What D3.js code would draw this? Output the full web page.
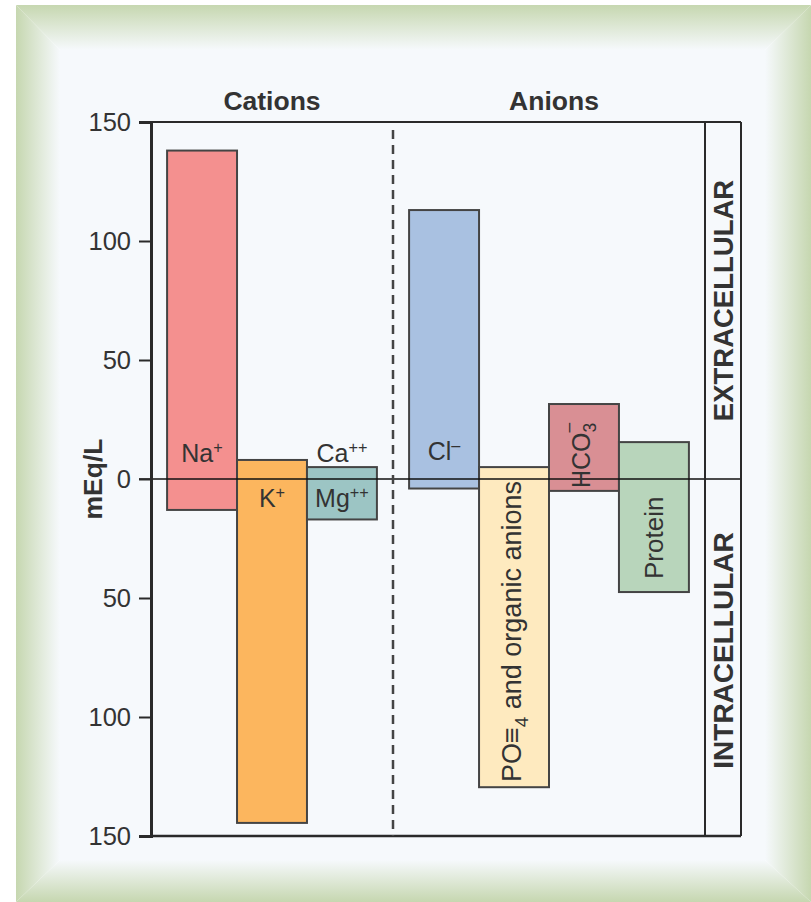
<!DOCTYPE html>
<html><head><meta charset="utf-8">
<script src="https://cdn.jsdelivr.net/npm/d3@7"></script>
<style>
html,body{margin:0;padding:0;background:#fff;}
svg{display:block;}
text{font-family:"Liberation Sans","Arial",sans-serif;fill:#333;}
</style></head>
<body>
<svg id="chart" width="811" height="902"></svg>
<script>
// ---- data ----
const cations = ["Na", "K", "CaMg"];
const cationTop = [138, 8, 5];        // extracellular (mEq/L, upward)
const cationBottom = [13, 144.5, 17];  // intracellular (mEq/L, downward)
const cationColors = ["#f4908f", "#fcb65e", "#9cc5c4"];

const anions = ["Cl", "PO4", "HCO3", "Protein"];
const anionTop = [113, 5, 31.5, 15.5];
const anionBottom = [4, 129.5, 5, 47.5];
const anionColors = ["#a9c1e1", "#feeabf", "#d98f94", "#b8d5bb"];

const yTickValues = [150, 100, 50, 0, -50, -100, -150];

// ---- layout ----
const svg = d3.select("#chart");
const defs = svg.append("defs");
const fx0 = 16, fy0 = 5, fx1 = 811, fy1 = 902;     // frame outer
const ix0 = 60, iy0 = 50, ix1 = 765, iy1 = 860;    // frame inner
const green = "#c6d7b0", light = "#f6f9fc";

function grad(id, x1, y1, x2, y2) {
  const g = defs.append("linearGradient").attr("id", id)
    .attr("x1", x1).attr("y1", y1).attr("x2", x2).attr("y2", y2);
  g.append("stop").attr("offset", "0").attr("stop-color", green);
  g.append("stop").attr("offset", "1").attr("stop-color", light);
}
grad("gTop", 0, 0, 0, 1);
grad("gBot", 0, 1, 0, 0);
grad("gLeft", 0, 0, 1, 0);
grad("gRight", 1, 0, 0, 0);

svg.append("rect").attr("x", ix0).attr("y", iy0).attr("width", ix1 - ix0).attr("height", iy1 - iy0).attr("fill", light);
const poly = (pts, fill) => svg.append("polygon").attr("points", pts.map(p => p.join(",")).join(" ")).attr("fill", fill);
poly([[fx0, fy0], [fx1, fy0], [ix1, iy0], [ix0, iy0]], "url(#gTop)");
poly([[fx0, fy1], [fx1, fy1], [ix1, iy1], [ix0, iy1]], "url(#gBot)");
poly([[fx0, fy0], [ix0, iy0], [ix0, iy1], [fx0, fy1]], "url(#gLeft)");
poly([[fx1, fy0], [ix1, iy0], [ix1, iy1], [fx1, fy1]], "url(#gRight)");

const axisX = 151, divX = 393, boxX1 = 705, boxX2 = 741;
const y = d3.scaleLinear().domain([150, -150]).range([122, 836]);

const xCat = d3.scaleBand().domain(cations).range([axisX, divX]).paddingInner(0).paddingOuter(0.23);
const xAn = d3.scaleBand().domain(anions).range([divX, boxX1]).paddingInner(0).paddingOuter(0.23);

const g = svg.append("g");

// bars
function drawBars(names, tops, bottoms, colors, x) {
  g.selectAll(null).data(names).enter().append("rect")
    .attr("x", d => x(d))
    .attr("width", x.bandwidth())
    .attr("y", (d, i) => y(tops[i]))
    .attr("height", (d, i) => y(-bottoms[i]) - y(tops[i]))
    .attr("fill", (d, i) => colors[i])
    .attr("stroke", "#444").attr("stroke-width", 2);
}
drawBars(cations, cationTop, cationBottom, cationColors, xCat);
drawBars(anions, anionTop, anionBottom, anionColors, xAn);

// frame lines
const lineC = "#2a2a2a";
g.append("line").attr("x1", axisX).attr("x2", boxX2).attr("y1", y(150)).attr("y2", y(150)).attr("stroke", lineC).attr("stroke-width", 2);
g.append("line").attr("x1", axisX).attr("x2", boxX2).attr("y1", y(-150)).attr("y2", y(-150)).attr("stroke", lineC).attr("stroke-width", 2.5);
g.append("line").attr("x1", axisX - 12).attr("x2", boxX2).attr("y1", y(0)).attr("y2", y(0)).attr("stroke", "#111").attr("stroke-width", 1.6);
[boxX1, boxX2].forEach(xx => g.append("line").attr("x1", xx).attr("x2", xx).attr("y1", y(150)).attr("y2", y(-150)).attr("stroke", lineC).attr("stroke-width", 2));
g.append("line").attr("x1", divX).attr("x2", divX).attr("y1", y(150) + 8).attr("y2", y(-150)).attr("stroke", "#444").attr("stroke-width", 2.5).attr("stroke-dasharray", "9,6");

// y axis
const yAxis = d3.axisLeft(y).tickValues(yTickValues).tickFormat(d => Math.abs(d)).tickSize(12).tickPadding(8);
const ya = svg.append("g").attr("transform", `translate(${axisX},0)`).call(yAxis);
ya.select(".domain").attr("stroke", lineC).attr("stroke-width", 3);
ya.selectAll(".tick line").attr("stroke", lineC).attr("stroke-width", 2);
ya.selectAll(".tick text").attr("font-size", 25.5).attr("fill", "#333").attr("font-family", "Liberation Sans, Arial, sans-serif");

// titles
svg.append("text").attr("x", (axisX + divX) / 2).attr("y", 110).attr("text-anchor", "middle").attr("font-size", 26.5).attr("font-weight", "bold").text("Cations");
svg.append("text").attr("x", (divX + boxX1) / 2 + 5).attr("y", 110).attr("text-anchor", "middle").attr("font-size", 26.5).attr("font-weight", "bold").text("Anions");
svg.append("text").attr("transform", `translate(102,${y(0)}) rotate(-90)`).attr("text-anchor", "middle").attr("font-size", 26.5).attr("font-weight", "bold").text("mEq/L");
svg.append("text").attr("transform", `translate(733,${(y(150) + y(0)) / 2}) rotate(-90)`).attr("text-anchor", "middle").attr("font-size", 27.5).attr("font-weight", "bold").text("EXTRACELLULAR");
svg.append("text").attr("transform", `translate(733,${(y(0) + y(-150)) / 2 - 7}) rotate(-90)`).attr("text-anchor", "middle").attr("font-size", 28).attr("font-weight", "bold").text("INTRACELLULAR");

// bar labels
const lfs = 25;
function supLabel(x, yy, base, sup) {
  const t = svg.append("text").attr("x", x).attr("y", yy).attr("text-anchor", "middle").attr("font-size", lfs);
  t.append("tspan").text(base);
  t.append("tspan").attr("dy", -9).attr("font-size", lfs * 0.65).text(sup);
  return t;
}
const cx = (sc, d) => sc(d) + sc.bandwidth() / 2;
supLabel(cx(xCat, "Na"), 462, "Na", "+");
supLabel(cx(xCat, "K"), 507, "K", "+");
supLabel(cx(xCat, "CaMg"), 462, "Ca", "++");
supLabel(cx(xCat, "CaMg"), 507, "Mg", "++");
supLabel(cx(xAn, "Cl"), 460, "Cl", "\u2013");

// rotated labels
const po = svg.append("text").attr("transform", `translate(${cx(xAn, "PO4") + 7},782) rotate(-90)`).attr("font-size", 27);
po.append("tspan").text("PO");
po.append("tspan").text("\u2261");
po.append("tspan").attr("dy", 7).attr("font-size", 27 * 0.7).text("4");
po.append("tspan").attr("dy", -7).text(" and organic anions");

const hc = svg.append("text").attr("transform", `translate(${cx(xAn, "HCO3") + 6},488) rotate(-90)`).attr("font-size", lfs);
hc.append("tspan").text("HCO");
hc.append("tspan").attr("dy", 6).attr("font-size", lfs * 0.7).text("3");
hc.append("tspan").attr("dx", -lfs * 0.7 * 0.556).attr("dy", -22).attr("font-size", lfs * 0.7).text("\u2013");

svg.append("text").attr("transform", `translate(${cx(xAn, "Protein") + 9},579) rotate(-90)`).attr("font-size", 26).text("Protein");
</script>
</body></html>
